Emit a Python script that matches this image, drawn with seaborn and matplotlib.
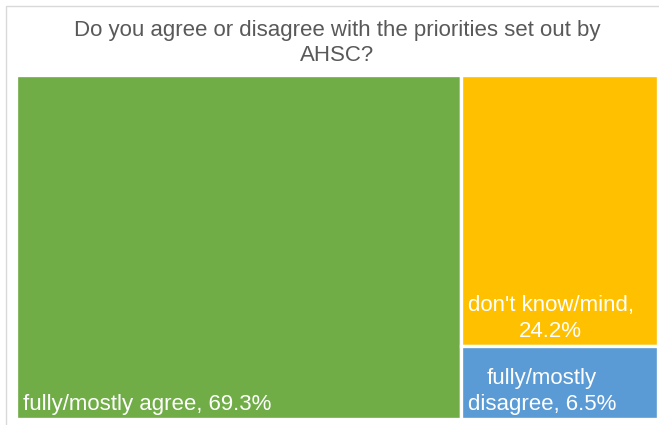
import matplotlib
matplotlib.use("Agg")
import matplotlib.pyplot as plt
from matplotlib.patches import Rectangle
import seaborn as sns

sns.set_theme(style="white")
plt.rcParams["font.family"] = ["Liberation Sans", "DejaVu Sans"]

# Survey answers and their shares (%)
categories = ["fully/mostly agree", "don't know/mind", "fully/mostly disagree"]
shares = [69.3, 24.2, 6.5]
label_texts = ["fully/mostly agree, 69.3%",
               "don't know/mind,\n24.2%",
               "fully/mostly\ndisagree, 6.5%"]
colors = ["#70AD47", "#FFC000", "#5B9BD5"]
title = "Do you agree or disagree with the priorities set out by\nAHSC?"

W, H = 659, 425
fig = plt.figure(figsize=(W / 100, H / 100), dpi=100)

# light outer frame of the chart area
fig.patches.append(Rectangle((6 / W, -0.02), 1.05, 1 - 6 / H + 0.02,
                             transform=fig.transFigure, fill=False,
                             edgecolor="#D9D9D9", linewidth=1.0))

fig.text(337 / W, 1 - 43 / H, title, ha="center", va="center",
         fontsize=16, color="#595959", linespacing=1.3)

ax = fig.add_axes([16 / W, 1 - 419 / H, 642 / W, 344 / H])

# treemap layout: largest share fills the left column, the rest stack on the right
total = sum(shares)
left_w = shares[0] / total
rest = sum(shares[1:])
rects = [
    (0.0, 0.0, left_w, 1.0),
    (left_w, shares[2] / rest, 1 - left_w, shares[1] / rest),
    (left_w, 0.0, 1 - left_w, shares[2] / rest),
]

for (x0, y0, w, h), c, txt in zip(rects, colors, label_texts):
    ax.bar(x0, h, width=w, bottom=y0, align="edge", color=c,
           edgecolor="white", linewidth=2.4)
    ax.annotate(txt, xy=(x0, y0), xytext=(5, 3), textcoords="offset points",
                ha="left", va="bottom", multialignment="center",
                fontsize=16, color="white", linespacing=1.3)

ax.set_xlim(0, 1)
ax.set_ylim(0, 1)
ax.axis("off")

fig.savefig("out.png", dpi=100)
